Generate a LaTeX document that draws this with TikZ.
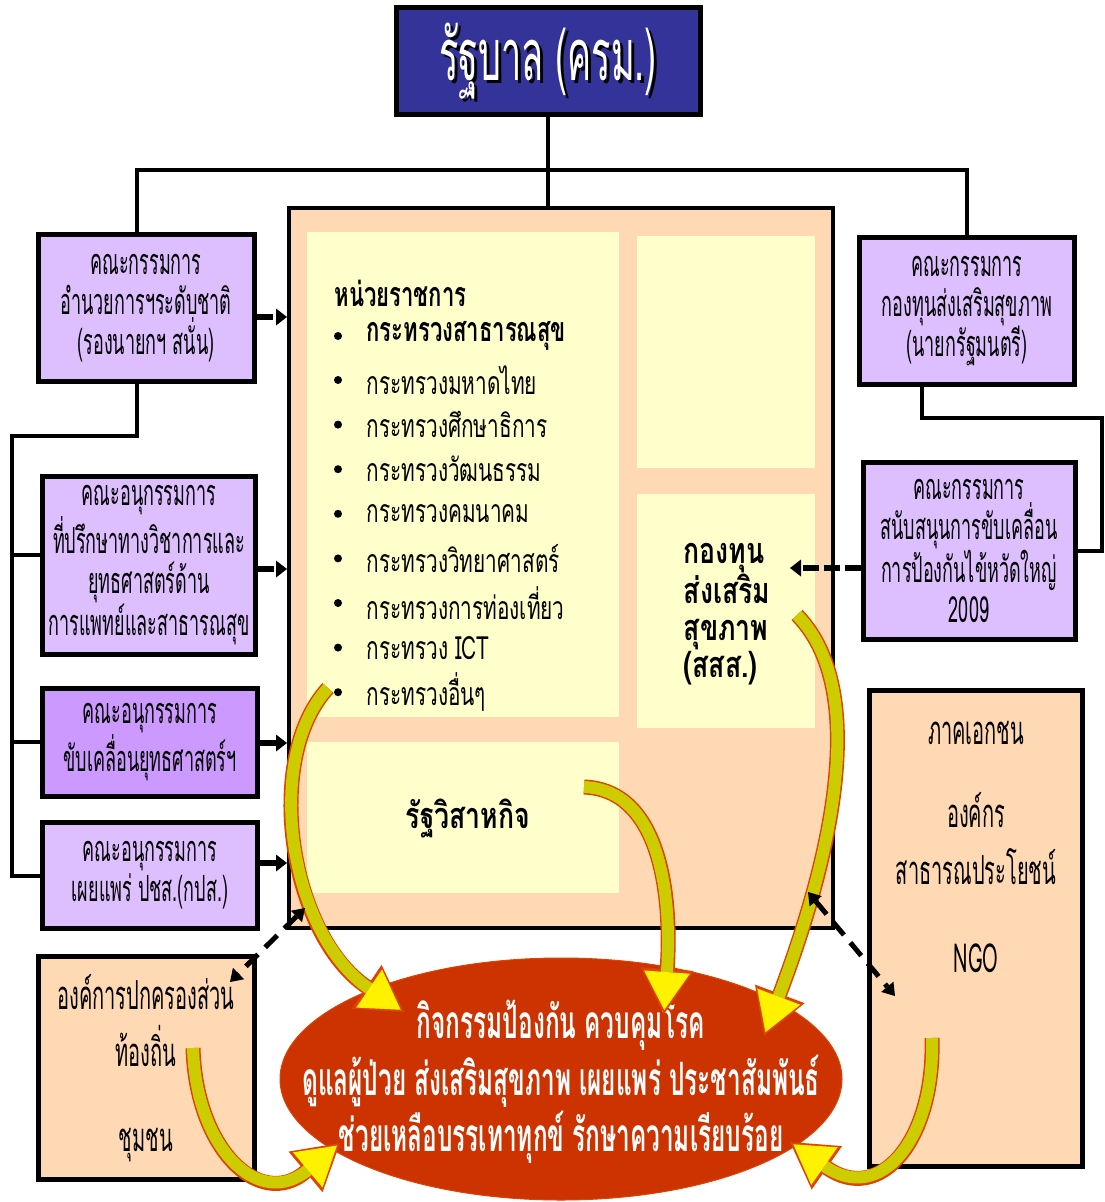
\documentclass[tikz,border=0pt]{standalone}
\usepackage{fontspec}
\usetikzlibrary{arrows.meta,positioning,shapes.geometric}
\newfontfamily\thaicond[Script=Thai,FakeStretch=0.5]{Loma}
\newfontfamily\thaiact[Script=Thai,FakeStretch=0.53]{Loma}
\newfontfamily\thaimid[Script=Thai,FakeStretch=0.65]{Loma}
\newfontfamily\thaiwide[Script=Thai,FakeStretch=0.74]{Loma}
\definecolor{govblue}{HTML}{333399}
\definecolor{lilac}{HTML}{DDBEFF}
\definecolor{lilacdark}{HTML}{CC99FF}
\definecolor{peach}{HTML}{FFD9B3}
\definecolor{cream}{HTML}{FFFFCC}
\definecolor{brick}{HTML}{CC3300}
\definecolor{olivey}{HTML}{CCCC00}
\definecolor{rim}{HTML}{DD4400}
\tikzset{
  wire/.style={draw=black, line width=4pt},
  cttbox/.style={draw=black, line width=5pt, fill=lilac, inner sep=0pt, align=center,
    font=\thaicond\fontsize{36}{40}\selectfont},
  peachbox/.style={draw=black, line width=5pt, fill=peach, inner sep=0pt, align=center,
    font=\thaicond\fontsize{40}{57}\selectfont},
  panel/.style={fill=cream, inner sep=0pt},
  listitem/.style={font=\thaimid\fontsize{32}{36}\selectfont, anchor=west},
  dasharrow/.style={draw=black, line width=6pt, dash pattern=on 16pt off 5pt,
    -{Triangle[length=11pt,width=17pt,line width=0pt]}},
  twoway/.style={draw=black, line width=5pt, dash pattern=on 17pt off 10pt,
    {Triangle[length=12pt,width=16pt,line width=0pt]}-{Triangle[length=12pt,width=16pt,line width=0pt]}},
  fatarrow/.style={draw=olivey, line width=12pt, shorten >=4pt,
    -{Triangle[length=38pt,width=46pt,line width=0pt,color=yellow]},
    preaction={draw=rim, line width=15pt, shorten >=0pt,
      -{Triangle[length=45pt,width=53pt,line width=0pt,color=rim]}}}
}
\begin{document}
\begin{tikzpicture}[x=1pt,y=-1pt]
\useasboundingbox (0,0) rectangle (1104,1202);
% government
\node[draw=black, line width=5pt, fill=govblue, minimum width=304pt, minimum height=107pt] (gov) at (548,61) {};
\node[font=\thaicond\fontsize{72}{74}\selectfont, text=white] (govtext) at (548,63)
  {\makebox[0pt][l]{\hspace{3pt}\raisebox{-3pt}{\color{black}รัฐบาล (ครม.)}}รัฐบาล (ครม.)};

% central block
\node[draw=black, line width=4pt, fill=peach, minimum width=544pt, minimum height=720pt] (main) at (561,568) {};
\node[panel, minimum width=312pt, minimum height=485pt] (gover) at (463,474) {};
\node[panel, minimum width=178pt, minimum height=232pt] (blank) at (726,352) {};
\node[panel, minimum width=178pt, minimum height=234pt] (thf) at (726,611) {};
\node[panel, minimum width=312pt, minimum height=151pt] (soe) at (463,817) {};

\node[listitem, font=\thaimid\bfseries\fontsize{34}{36}\selectfont] (unit) at (331,293) {หน่วยราชการ};
\foreach \txt [count=\i] in {กระทรวงมหาดไทย, กระทรวงศึกษาธิการ, กระทรวงวัฒนธรรม, กระทรวงคมนาคม,
    กระทรวงวิทยาศาสตร์, กระทรวงการท่องเที่ยว, กระทรวง ICT, กระทรวงอื่นๆ} {
  \node[listitem] (item\i) at (363,{380+44.6*(\i-1)}) {\txt};
  \fill (338,{380+44.6*(\i-1)}) circle (4pt);
}
\node[listitem, font=\thaimid\bfseries\fontsize{34}{36}\selectfont] (moph) at (363,336) {กระทรวงสาธารณสุข};
\fill (338,336) circle (4pt);
\node[font=\thaiwide\bfseries\fontsize{36}{37}\selectfont, align=left] (thftext) at (727,614) {กองทุน\\ส่งเสริม\\สุขภาพ\\(สสส.)};
\node[font=\thaiwide\bfseries\fontsize{36}{37}\selectfont] (soetext) at (468,818) {รัฐวิสาหกิจ};

% committees
\node[cttbox, minimum width=216pt, minimum height=147pt] (natl) at (146,308) {คณะกรรมการ\\อำนวยการฯระดับชาติ\\(รองนายกฯ สนั่น)};
\node[cttbox, minimum width=213pt, minimum height=178pt] (acad) at (149,565) {คณะอนุกรรมการ\\ที่ปรึกษาทางวิชาการและ\\ยุทธศาสตร์ด้าน\\การแพทย์และสาธารณสุข};
\node[cttbox, fill=lilacdark, minimum width=215pt, minimum height=108pt] (strat) at (150,742) {คณะอนุกรรมการ\\ขับเคลื่อนยุทธศาสตร์ฯ};
\node[cttbox, minimum width=215pt, minimum height=106pt] (prc) at (150,875) {คณะอนุกรรมการ\\เผยแพร่ ปชส.(กปส.)};
\node[cttbox, minimum width=215pt, minimum height=147pt] (fund) at (967,311) {คณะกรรมการ\\กองทุนส่งเสริมสุขภาพ\\(นายกรัฐมนตรี)};
\node[cttbox, minimum width=212pt, minimum height=177pt] (flu) at (969,551) {คณะกรรมการ\\สนับสนุนการขับเคลื่อน\\การป้องกันไข้หวัดใหญ่\\2009};

% outside partners
\node[peachbox, minimum width=213pt, minimum height=476pt] (ngo) at (976,928) {};
\node[font=\thaicond\fontsize{40}{57}\selectfont, align=center, anchor=north] (ngotext) at (976,718)
  {ภาคเอกชน\\[26pt]องค์กร\\สาธารณประโยชน์\\[31pt]NGO};
\node[peachbox, minimum width=216pt, minimum height=223pt] (local) at (146,1068) {องค์การปกครองส่วน\\ท้องถิ่น\\[28pt]ชุมชน};

% activities
\node[ellipse, draw=rim, line width=1pt, fill=brick, minimum width=562pt, minimum height=242pt] (acts) at (561,1079) {};
\node[text=white, align=center, font=\thaiact\bfseries\fontsize{46}{56.5}\selectfont] (actstext) at (561,1082)
  {กิจกรรมป้องกัน ควบคุมโรค\\ดูแลผู้ป่วย ส่งเสริมสุขภาพ เผยแพร่ ประชาสัมพันธ์\\ช่วยเหลือบรรเทาทุกข์ รักษาความเรียบร้อย};

% tree lines
\coordinate (barL) at (137,170);
\coordinate (barR) at (967,170);
\draw[wire] (gov.south) -- (gov.south |- main.north);
\draw[wire] (barL |- natl.north) -- (barL) -- (barR) -- (barR |- fund.north);
\coordinate (busTop) at (12,436);
\coordinate (busBot) at (12,876);
\draw[wire] (barL |- natl.south) -- (barL |- busTop) -- (busTop) -- (busBot) -- (busBot -| prc.west);
\draw[wire] (12,555) -- (12,555 -| acad.west);
\draw[wire] (12,742) -- (strat.west);
\draw[wire] (922,385) -- (922,418) -- (1102,418) -- (1102,551) -- (flu.east);

% dashed links
\draw[dasharrow] (natl.east |- 0,317) -- (main.west |- 0,317);
\draw[dasharrow] (acad.east |- 0,569) -- (main.west |- 0,569);
\draw[dasharrow] (strat.east |- 0,743) -- (main.west |- 0,743);
\draw[dasharrow] (prc.east |- 0,863) -- (main.west |- 0,863);
\draw[dasharrow] (flu.west |- 0,568) -- (790,568);

% yellow arrows
\coordinate (tailA) at (328,688);
\coordinate (tailB) at (584,787);
\coordinate (tailC) at (797,615);
\coordinate (tailD) at (193,1048);
\coordinate (tailE) at (932,1038);
\draw[fatarrow] (tailA) .. controls (262,760) and (290,935) .. (404,1012);
\draw[fatarrow] (tailB) .. controls (662,790) and (672,900) .. (664,1014);
\draw[fatarrow] (tailC) .. controls (880,700) and (815,900) .. (764,1036);
\draw[fatarrow] (tailD) .. controls (196,1150) and (260,1210) .. (340,1143);
\draw[fatarrow] (tailE) .. controls (935,1140) and (880,1205) .. (790,1142);

% two-way links
\coordinate (cornerL) at (305,908);
\coordinate (cornerR) at (808,892);
\draw[twoway] (cornerL) -- (230,982);
\draw[twoway] (cornerR) -- (895,996);
\end{tikzpicture}
\end{document}
